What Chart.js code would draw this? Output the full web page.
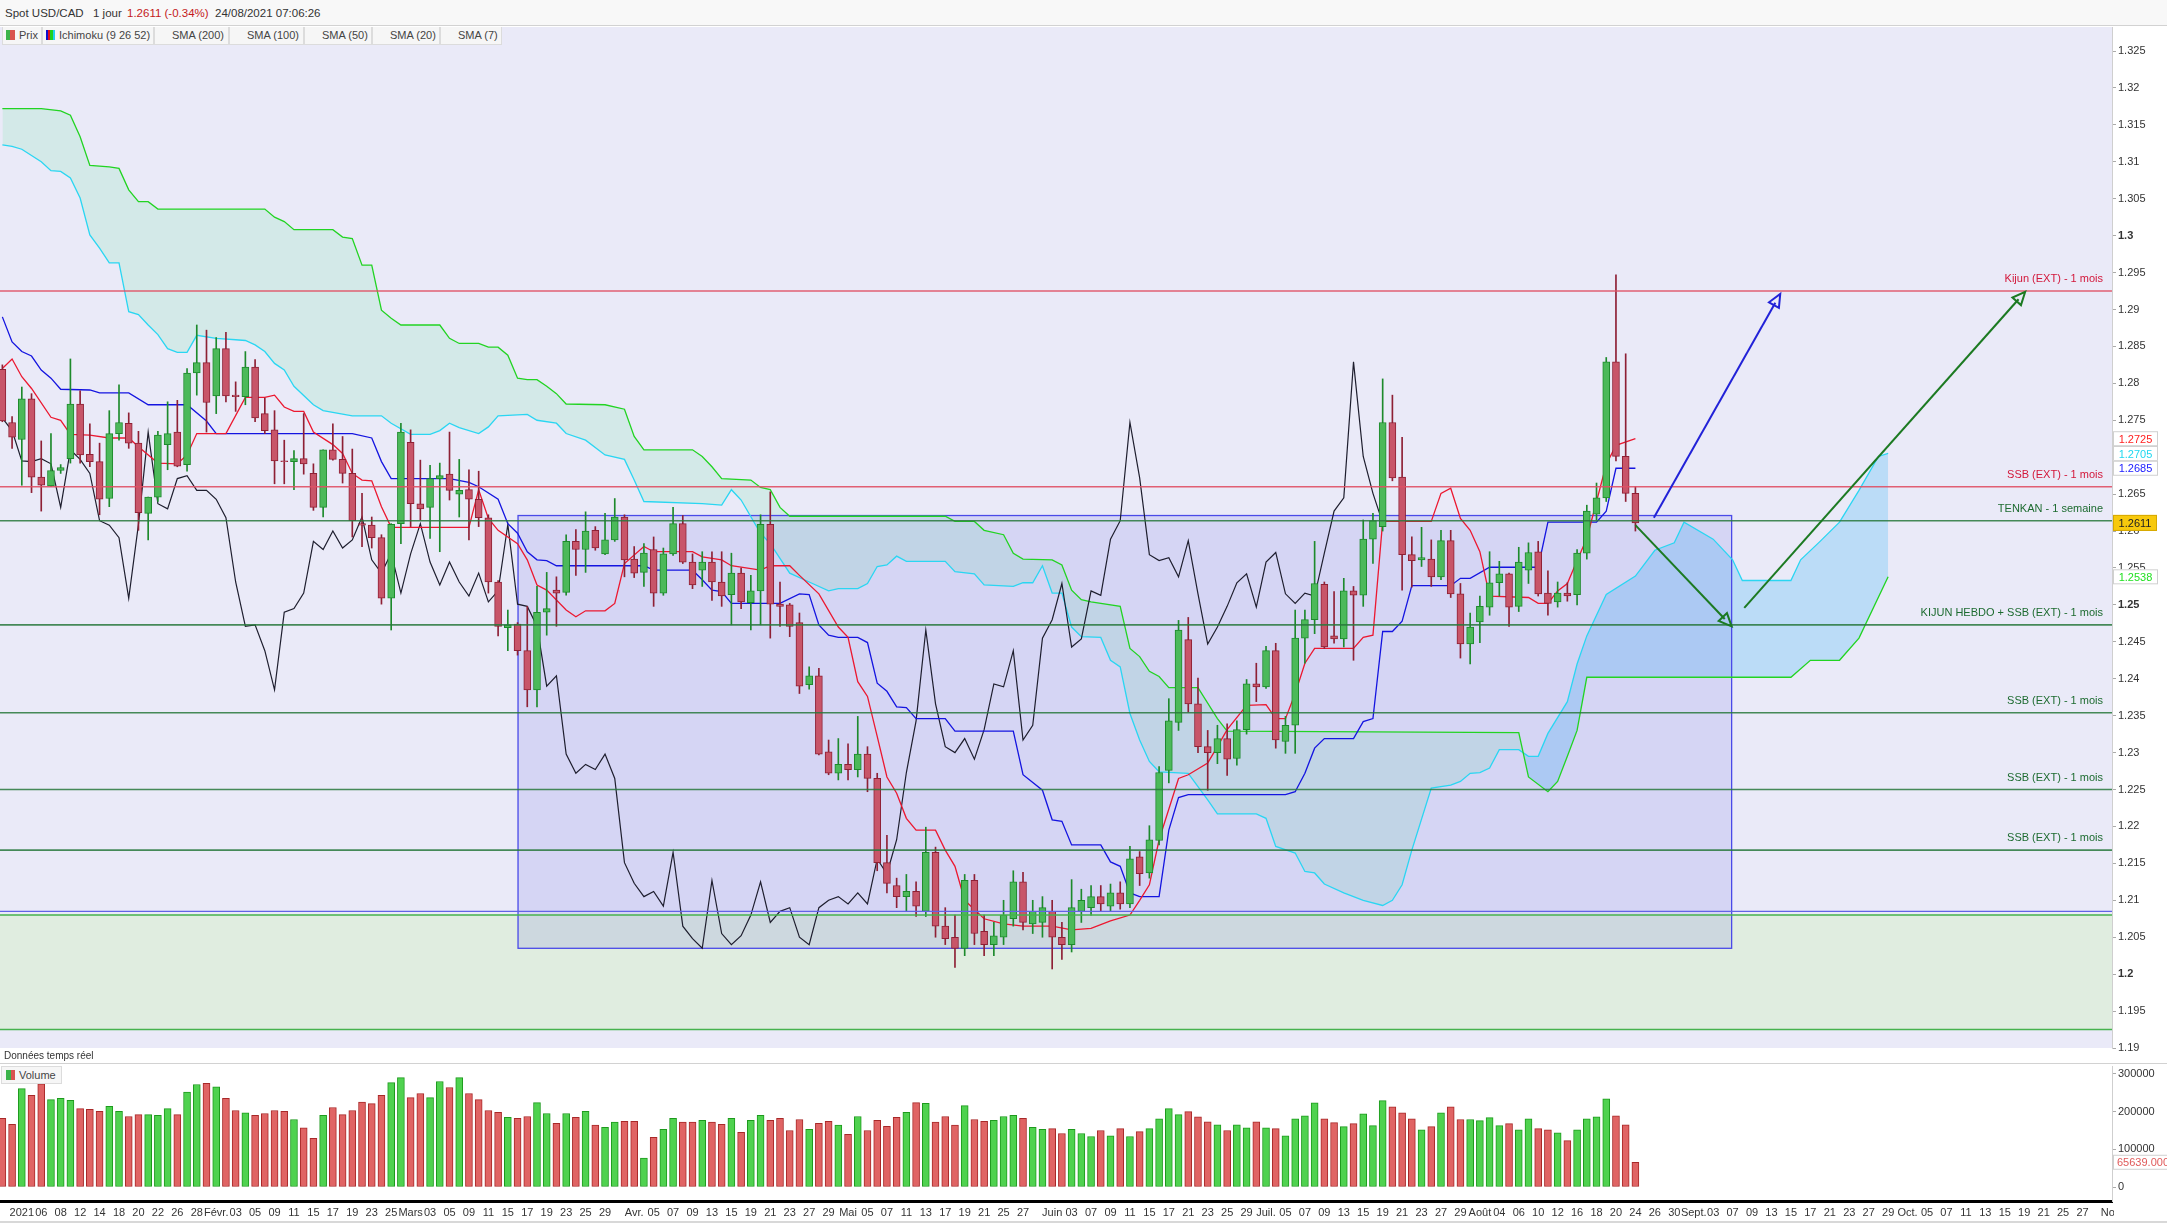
<!DOCTYPE html>
<html>
<head>
<meta charset="utf-8">
<script src="https://cdn.jsdelivr.net/npm/chart.js"></script>
<style>
  html, body { margin: 0; padding: 0; background: #fff; width: 2167px; height: 1223px; overflow: hidden;
    font-family: "Liberation Sans", Arial, sans-serif; }
  #head { position: absolute; left: 0; top: 0; width: 2167px; height: 26px; background: #f8f8f8;
    border-bottom: 1px solid #d2d2d2; box-sizing: border-box; font-size: 11.5px; color: #333; }
  #head span { position: absolute; top: 7px; }
  #head .red { color: #c41a1a; }
  #legend { position: absolute; left: 2px; top: 27px; height: 18px; z-index: 5; display: flex; }
  #legend div { height: 17px; line-height: 17px; font-size: 11px; color: #444; background: #f6f6f6;
    border: 1px solid #dcdcdc; border-top: none; padding: 0 3px 0 3px; box-sizing: content-box; white-space: nowrap; }
  #legend div.sma { padding: 0 4px 0 17px; }
  .sw { display: inline-block; width: 9px; height: 10px; vertical-align: -1px; margin-right: 4px; }
  canvas { position: absolute; left: 0; }
  #price { top: 27px; }
  #vol { top: 1064px; }
  #sep { position: absolute; left: 0; top: 1063px; width: 2167px; height: 1px; background: #d2d2d2; }
  #rt { position: absolute; left: 4px; top: 1050px; font-size: 10px; color: #333; }
  #vleg { position: absolute; left: 1px; top: 1066px; height: 16px; line-height: 16px; font-size: 11px; color: #444;
    background: #f6f6f6; border: 1px solid #dcdcdc; padding: 0 5px 0 4px; z-index: 5; }
  #foot { position: absolute; left: 0; top: 1221px; width: 2167px; height: 2px; background: #d8d8d8; }
</style>
</head>
<body>
<div id="head">
  <span style="left:5px">Spot USD/CAD</span>
  <span style="left:93px">1 jour</span>
  <span class="red" style="left:127px">1.2611 (-0.34%)</span>
  <span style="left:215px">24/08/2021 07:06:26</span>
</div>
<div id="legend">
  <div style="width:32px"><span class="sw" style="background:linear-gradient(90deg,#3cb44b 50%,#d9534f 50%)"></span>Prix</div>
  <div style="width:104px"><span class="sw" style="background:linear-gradient(90deg,#1010d0 25%,#e01020 25%,#e01020 50%,#20d020 50%,#20d020 75%,#20d0f0 75%)"></span>Ichimoku (9 26 52)</div>
  <div class="sma" style="width:52px">SMA (200)</div>
  <div class="sma" style="width:52px">SMA (100)</div>
  <div class="sma" style="width:45px">SMA (50)</div>
  <div class="sma" style="width:45px">SMA (20)</div>
  <div class="sma" style="width:39px">SMA (7)</div>
</div>
<canvas id="price" width="2167" height="1030"></canvas>
<div id="rt">Données temps réel</div>
<div id="sep"></div>
<canvas id="vol" width="2167" height="159"></canvas>
<div id="vleg"><span class="sw" style="background:linear-gradient(90deg,#3cb44b 50%,#d9534f 50%)"></span>Volume</div>
<div id="foot"></div>

<script>
// first candle is 30/12/2020, index 0 is 04/01/2021 (one index per trading day)
const FIRST_INDEX = -2;
const X_MIN = -2.243;
const X_MAX = 215.03;

// daily candles
const opens = [
  1.2819, 1.2747, 1.2724, 1.2779, 1.2673, 1.2661, 1.2682, 1.2698, 1.2772, 1.2704, 1.2694, 1.2644,
  1.2732, 1.2746, 1.2719, 1.2624, 1.2646, 1.2717, 1.2734, 1.2690, 1.2814, 1.2828,
  1.2783, 1.2847, 1.2784, 1.2782, 1.2822, 1.2759, 1.2737, 1.2695, 1.2694, 1.2698,
  1.2678, 1.2632, 1.2710, 1.2697, 1.2678, 1.2610, 1.2608, 1.2591, 1.2509, 1.2610,
  1.2720, 1.2637, 1.2632, 1.2671, 1.2677, 1.2650, 1.2656, 1.2643, 1.2618, 1.2531,
  1.2469, 1.2474, 1.2438, 1.2385, 1.2490, 1.2520, 1.2517, 1.2586, 1.2575, 1.2601,
  1.2569, 1.2588, 1.2619, 1.2562, 1.2544, 1.2575, 1.2516, 1.2569, 1.2610, 1.2558,
  1.2547, 1.2558, 1.2531, 1.2514, 1.2543, 1.2503, 1.2519, 1.2609, 1.2501, 1.2500,
  1.2476, 1.2392, 1.2404, 1.2301, 1.2272, 1.2284, 1.2277, 1.2298, 1.2265, 1.2151,
  1.2120, 1.2105, 1.2112, 1.2085, 1.2165, 1.2065, 1.2050, 1.2035, 1.2127, 1.2058,
  1.2040, 1.2050, 1.2075, 1.2125, 1.2068, 1.2070, 1.2085, 1.2050, 1.2040, 1.2085,
  1.2090, 1.2105, 1.2092, 1.2110, 1.2095, 1.2159, 1.2137, 1.2181, 1.2276, 1.2341,
  1.2453, 1.2366, 1.2308, 1.2300, 1.2319, 1.2292, 1.2331, 1.2393, 1.2389, 1.2438,
  1.2315, 1.2337, 1.2455, 1.2480, 1.2528, 1.2458, 1.2454, 1.2519, 1.2513, 1.2589,
  1.2606, 1.2747, 1.2673, 1.2568, 1.2561, 1.2562, 1.2538, 1.2587, 1.2515, 1.2447,
  1.2477, 1.2497, 1.2530, 1.2542, 1.2498, 1.2547, 1.2572, 1.2516, 1.2504, 1.2516,
  1.2514, 1.2570, 1.2623, 1.2645, 1.2829, 1.2701, 1.2651
];
const highs = [
  1.2825, 1.2755, 1.2795, 1.2786, 1.2722, 1.2732, 1.2690, 1.2833, 1.2790, 1.2745, 1.2719, 1.2763,
  1.2798, 1.2760, 1.2735, 1.2646, 1.2735, 1.2775, 1.2777, 1.2820, 1.2879, 1.2872,
  1.2862, 1.2869, 1.2802, 1.2843, 1.2832, 1.2780, 1.2763, 1.2723, 1.2709, 1.2759,
  1.2691, 1.2710, 1.2745, 1.2728, 1.2711, 1.2651, 1.2619, 1.2595, 1.2610, 1.2746,
  1.2737, 1.2696, 1.2689, 1.2692, 1.2734, 1.2697, 1.2683, 1.2681, 1.2622, 1.2533,
  1.2493, 1.2476, 1.2498, 1.2525, 1.2544, 1.2538, 1.2595, 1.2602, 1.2626, 1.2606,
  1.2624, 1.2644, 1.2622, 1.2579, 1.2583, 1.2592, 1.2577, 1.2632, 1.2621, 1.2569,
  1.2572, 1.2572, 1.2572, 1.2570, 1.2550, 1.2540, 1.2622, 1.2653, 1.2531, 1.2502,
  1.2489, 1.2416, 1.2414, 1.2317, 1.2319, 1.2312, 1.2349, 1.2308, 1.2272, 1.2188,
  1.2130, 1.2135, 1.2125, 1.2199, 1.2172, 1.2090, 1.2080, 1.2135, 1.2135, 1.2080,
  1.2070, 1.2100, 1.2140, 1.2138, 1.2100, 1.2105, 1.2100, 1.2070, 1.2128, 1.2115,
  1.2120, 1.2120, 1.2122, 1.2125, 1.2173, 1.2166, 1.2201, 1.2281, 1.2373, 1.2479,
  1.2483, 1.2401, 1.2330, 1.2337, 1.2339, 1.2343, 1.2399, 1.2421, 1.2444, 1.2448,
  1.2349, 1.2493, 1.2493, 1.2586, 1.2531, 1.2518, 1.2536, 1.2525, 1.2615, 1.2624,
  1.2806, 1.2784, 1.2727, 1.2592, 1.2605, 1.2588, 1.2601, 1.2601, 1.2529, 1.2489,
  1.2512, 1.2572, 1.2559, 1.2543, 1.2578, 1.2584, 1.2586, 1.2546, 1.2531, 1.2530,
  1.2575, 1.2635, 1.2665, 1.2835, 1.2947, 1.2840, 1.2660
];
const lows = [
  1.2748, 1.2712, 1.2662, 1.2652, 1.2627, 1.2660, 1.2678, 1.2692, 1.2692, 1.2687, 1.2622, 1.2633,
  1.2723, 1.2712, 1.2601, 1.2588, 1.2640, 1.2683, 1.2687, 1.2681, 1.2784, 1.2734,
  1.2759, 1.2775, 1.2762, 1.2771, 1.2748, 1.2732, 1.2664, 1.2664, 1.2656, 1.2677,
  1.2628, 1.2619, 1.2696, 1.2665, 1.2592, 1.2579, 1.2577, 1.2501, 1.2466, 1.2583,
  1.2606, 1.2615, 1.2590, 1.2572, 1.2642, 1.2619, 1.2588, 1.2606, 1.2516, 1.2458,
  1.2438, 1.2432, 1.2362, 1.2362, 1.2459, 1.2471, 1.2513, 1.2540, 1.2544, 1.2574,
  1.2568, 1.2586, 1.2538, 1.2537, 1.2525, 1.2498, 1.2513, 1.2567, 1.2556, 1.2522,
  1.2525, 1.2506, 1.2498, 1.2473, 1.2495, 1.2466, 1.2473, 1.2455, 1.2471, 1.2457,
  1.2380, 1.2386, 1.2297, 1.2270, 1.2263, 1.2263, 1.2267, 1.2247, 1.2140, 1.2110,
  1.2090, 1.2085, 1.2078, 1.2078, 1.2050, 1.2040, 1.2009, 1.2025, 1.2040, 1.2025,
  1.2025, 1.2040, 1.2065, 1.2060, 1.2055, 1.2050, 1.2007, 1.2020, 1.2030, 1.2070,
  1.2080, 1.2085, 1.2085, 1.2088, 1.2090, 1.2120, 1.2130, 1.2175, 1.2259, 1.2330,
  1.2355, 1.2300, 1.2249, 1.2285, 1.2269, 1.2283, 1.2325, 1.2369, 1.2387, 1.2306,
  1.2299, 1.2299, 1.2421, 1.2461, 1.2441, 1.2448, 1.2443, 1.2425, 1.2498, 1.2556,
  1.2600, 1.2668, 1.2520, 1.2524, 1.2552, 1.2525, 1.2534, 1.2510, 1.2428, 1.2420,
  1.2449, 1.2486, 1.2512, 1.2471, 1.2491, 1.2529, 1.2512, 1.2486, 1.2497, 1.2505,
  1.2500, 1.2562, 1.2615, 1.2640, 1.2695, 1.2640, 1.2600
];
const closes = [
  1.2749, 1.2727, 1.2779, 1.2673, 1.2662, 1.2682, 1.2686, 1.2772, 1.2703, 1.2694, 1.2643, 1.2732,
  1.2747, 1.2719, 1.2625, 1.2646, 1.2730, 1.2732, 1.2688, 1.2814, 1.2828, 1.2774,
  1.2847, 1.2783, 1.2782, 1.2822, 1.2753, 1.2736, 1.2695, 1.2694, 1.2698, 1.2691,
  1.2632, 1.2710, 1.2697, 1.2678, 1.2614, 1.2608, 1.2591, 1.2509, 1.2609, 1.2734,
  1.2637, 1.2630, 1.2671, 1.2675, 1.2655, 1.2655, 1.2643, 1.2618, 1.2531, 1.2471,
  1.2473, 1.2438, 1.2385, 1.2490, 1.2495, 1.2516, 1.2586, 1.2575, 1.2600, 1.2577,
  1.2588, 1.2619, 1.2561, 1.2543, 1.2570, 1.2516, 1.2569, 1.2610, 1.2558, 1.2527,
  1.2558, 1.2531, 1.2512, 1.2543, 1.2504, 1.2519, 1.2609, 1.2501, 1.2498, 1.2471,
  1.2390, 1.2404, 1.2298, 1.2272, 1.2284, 1.2277, 1.2298, 1.2265, 1.2151, 1.2123,
  1.2105, 1.2112, 1.2092, 1.2165, 1.2065, 1.2048, 1.2035, 1.2127, 1.2055, 1.2040,
  1.2052, 1.2080, 1.2125, 1.2070, 1.2085, 1.2090, 1.2050, 1.2040, 1.2090, 1.2100,
  1.2105, 1.2095, 1.2110, 1.2095, 1.2156, 1.2136, 1.2182, 1.2273, 1.2343, 1.2466,
  1.2366, 1.2308, 1.2300, 1.2319, 1.2291, 1.2331, 1.2393, 1.2389, 1.2438, 1.2317,
  1.2337, 1.2455, 1.2480, 1.2529, 1.2443, 1.2454, 1.2519, 1.2513, 1.2589, 1.2614,
  1.2747, 1.2672, 1.2568, 1.2560, 1.2564, 1.2538, 1.2587, 1.2515, 1.2447, 1.2470,
  1.2498, 1.2530, 1.2542, 1.2497, 1.2558, 1.2571, 1.2515, 1.2502, 1.2516, 1.2512,
  1.2570, 1.2627, 1.2645, 1.2829, 1.2701, 1.2651, 1.2611
];
// volume in thousands
const volumes = [
  182, 166, 261, 243, 274, 232, 235, 230, 208, 206, 201, 214,
  201, 187, 192, 192, 190, 208, 192, 252, 272, 275,
  266, 235, 203, 197, 190, 195, 203, 201, 179, 157,
  129, 190, 211, 192, 203, 225, 221, 243, 277, 290,
  237, 248, 237, 280, 264, 290, 248, 232, 203, 198,
  185, 182, 187, 224, 195, 169, 195, 185, 201, 164,
  158, 172, 174, 174, 77, 132, 153, 182, 172, 172,
  177, 172, 166, 182, 145, 177, 190, 177, 182, 150,
  179, 153, 169, 174, 164, 140, 187, 150, 177, 161,
  185, 198, 224, 222, 172, 187, 164, 216, 179, 174,
  177, 187, 190, 182, 158, 153, 155, 142, 153, 142,
  134, 150, 136, 155, 134, 147, 155, 181, 208, 192,
  200, 186, 173, 165, 150, 165, 157, 173, 157, 155,
  136, 181, 189, 223, 181, 171, 160, 168, 194, 163,
  229, 213, 197, 181, 152, 160, 197, 213, 179, 179,
  176, 184, 163, 168, 152, 181, 155, 152, 144, 123,
  152, 181, 186, 234, 189, 165, 65.639
];

// Ichimoku lines as [index, price] vertices
const tenkan = [
  [-2,1.2820],[-1,1.2833],[0,1.2809],[1,1.2793],[3,1.2754],[4,1.2750],[5,1.2731],[7,1.2730],[9,1.2726],[11,1.2726],
  [12,1.2714],[14,1.2692],[16,1.2691],[17,1.2703],[18,1.2732],[21,1.2732],[23,1.2781],[25,1.2781],[26,1.2784],[27,1.2768],
  [28,1.2762],[29,1.2762],[30,1.2734],[32,1.2717],[33,1.2705],[34,1.2678],[35,1.2669],[36,1.2668],[37,1.2633],[38,1.2605],
  [46,1.2605],[47,1.2656],[48,1.2617],[49,1.2601],[51,1.2583],[52,1.2561],[53,1.2527],[54,1.2520],[56,1.2493],[57,1.2484],
  [58,1.2492],[60,1.2492],[61,1.2502],[62,1.2556],[64,1.2579],[65,1.2572],[69,1.2572],[70,1.2565],[72,1.2561],[73,1.2553],
  [76,1.2547],[77,1.2553],[79,1.2553],[80,1.2540],[82,1.2515],[84,1.2470],[85,1.2456],[86,1.2396],[87,1.2376],[88,1.2322],
  [89,1.2267],[90,1.2245],[91,1.2211],[92,1.2195],[94,1.2195],[95,1.2168],[96,1.2146],[97,1.2100],[99,1.2075],[101,1.2068],
  [103,1.2065],[106,1.2065],[108,1.2060],[110,1.2062],[112,1.2072],[114,1.2080],[115,1.2100],[116,1.2121],[117,1.2182],[119,1.2265],
  [120,1.2270],[122,1.2286],[123,1.2308],[124,1.2331],[126,1.2364],[128,1.2365],[129,1.2346],[130,1.2346],[131,1.2380],[132,1.2421],
  [133,1.2441],[137,1.2441],[138,1.2456],[139,1.2459],[140,1.2613],[145,1.2613],[146,1.2651],[147,1.2658],[148,1.2617],[149,1.2601],
  [150,1.2572],[151,1.2512],[155,1.2510],[156,1.2502],[157,1.2502],[158,1.2519],[159,1.2529],[160,1.2560],[161,1.2590],[162,1.2640],
  [163,1.2690],[164,1.2716],[166,1.2725]
];
const kijun = [
  [-2,1.2890],[-1,1.2856],[0,1.2843],[1,1.2837],[2,1.2818],[3,1.2807],[4,1.2792],[7,1.2791],[8,1.2787],[11,1.2787],
  [13,1.2771],[17,1.2771],[19,1.2749],[20,1.2732],[34,1.2732],[36,1.2726],[37,1.2694],[38,1.2671],[44,1.2671],[46,1.2666],
  [47,1.2660],[49,1.2643],[50,1.2610],[51,1.2597],[52,1.2572],[53,1.2561],[54,1.2560],[55,1.2553],[64,1.2553],[65,1.2547],
  [69,1.2547],[70,1.2534],[71,1.2520],[72,1.2518],[73,1.2502],[78,1.2502],[80,1.2515],[81,1.2514],[82,1.2473],[83,1.2459],
  [84,1.2456],[86,1.2456],[87,1.2449],[88,1.2394],[89,1.2383],[90,1.2362],[91,1.2361],[92,1.2346],[95,1.2346],[96,1.2329],
  [102,1.2329],[103,1.2270],[105,1.2249],[106,1.2209],[107,1.2207],[108,1.2175],[111,1.2175],[112,1.2152],[113,1.2146],[114,1.2110],
  [115,1.2105],[117,1.2105],[118,1.2195],[119,1.2239],[120,1.2243],[130,1.2243],[131,1.2247],[132,1.2272],[133,1.2306],[134,1.2319],
  [137,1.2319],[138,1.2342],[139,1.2346],[140,1.2464],[141,1.2464],[142,1.2478],[143,1.2526],[147,1.2526],[148,1.2536],[149,1.2536],
  [151,1.2551],[156,1.2551],[157,1.2612],[162,1.2612],[163,1.2627],[164,1.2685],[166,1.2685]
];
const spanA = [
  [-2,1.3123],[-1,1.3121],[0,1.3117],[2,1.3100],[3,1.3088],[4,1.3087],[5,1.3078],[6,1.3051],[7,1.3001],[8,1.2983],
  [9,1.2963],[10,1.2963],[11,1.2897],[12,1.2893],[13,1.2879],[14,1.2866],[15,1.2847],[16,1.2842],[17,1.2842],[18,1.2865],
  [20,1.2861],[22,1.2859],[23,1.2858],[24,1.2852],[25,1.2843],[26,1.2827],[27,1.2818],[28,1.2796],[30,1.2771],[31,1.2763],
  [34,1.2756],[37,1.2756],[38,1.2746],[40,1.2731],[42,1.2731],[43,1.2736],[44,1.2746],[45,1.2740],[47,1.2732],[48,1.2741],
  [49,1.2756],[52,1.2758],[53,1.2750],[55,1.2746],[56,1.2732],[58,1.2723],[60,1.2703],[62,1.2697],[63,1.2669],[64,1.2640],
  [70,1.2637],[72,1.2635],[73,1.2656],[74,1.2642],[76,1.2597],[77,1.2583],[79,1.2543],[81,1.2531],[83,1.2519],[84,1.2522],
  [86,1.2522],[87,1.2529],[88,1.2552],[89,1.2554],[90,1.2566],[91,1.2559],[95,1.2559],[96,1.2545],[98,1.2542],[99,1.2527],
  [102,1.2525],[103,1.2530],[104,1.2530],[105,1.2553],[106,1.2516],[107,1.2516],[108,1.2470],[109,1.2457],[111,1.2456],[112,1.2425],
  [113,1.2416],[114,1.2353],[115,1.2317],[116,1.2288],[117,1.2274],[120,1.2272],[121,1.2254],[122,1.2236],[123,1.2217],[127,1.2217],
  [128,1.2211],[129,1.2173],[131,1.2164],[132,1.2139],[133,1.2137],[134,1.2122],[136,1.2110],[138,1.2100],[140,1.2093],[141,1.2100],
  [142,1.2121],[143,1.2168],[145,1.2252],[147,1.2256],[148,1.2261],[149,1.2272],[150,1.2273],[151,1.2279],[152,1.2304],[154,1.2304],
  [155,1.2295],[156,1.2295],[157,1.2326],[159,1.2369],[160,1.2420],[161,1.2458],[163,1.2514],[166,1.2539],[168,1.2574],[170,1.2584],
  [171,1.2612],[174,1.2589],[176,1.2561],[177,1.2533],[182,1.2533],[183,1.2561],[185,1.2586],[187,1.2612],[189,1.2655],[191,1.2701],
  [192,1.2705]
];
const spanB = [
  [-2,1.3172],[2,1.3172],[4,1.3169],[5,1.3163],[6,1.3134],[7,1.3095],[9,1.3093],[10,1.3091],[11,1.3062],[12,1.3046],
  [13,1.3046],[14,1.3036],[25,1.3036],[26,1.3025],[27,1.3019],[28,1.3008],[32,1.3008],[33,1.2998],[34,1.2996],[35,1.2960],
  [36,1.2960],[37,1.2899],[38,1.2888],[39,1.2879],[43,1.2879],[44,1.2861],[45,1.2854],[47,1.2854],[48,1.2849],[49,1.2849],
  [50,1.2838],[51,1.2807],[52,1.2805],[53,1.2805],[54,1.2796],[55,1.2786],[56,1.2772],[60,1.2771],[62,1.2765],[63,1.2728],
  [64,1.2710],[69,1.2710],[70,1.2701],[71,1.2687],[72,1.2671],[75,1.2669],[76,1.2659],[77,1.2656],[78,1.2632],[79,1.2620],
  [95,1.2620],[96,1.2613],[98,1.2613],[99,1.2601],[101,1.2595],[102,1.2570],[103,1.2562],[106,1.2561],[107,1.2554],[108,1.2520],
  [109,1.2507],[110,1.2504],[113,1.2498],[114,1.2441],[115,1.2430],[116,1.2410],[117,1.2403],[118,1.2388],[121,1.2388],[123,1.2346],
  [124,1.2329],[154,1.2327],[155,1.2267],[157,1.2247],[158,1.2261],[159,1.2295],[160,1.2330],[161,1.2402],[182,1.2402],[184,1.2425],
  [187,1.2425],[189,1.2455],[192,1.2538]
];

// drawn levels and objects (index / price space)
const levelValues = [1.2925, 1.2660, 1.2614, 1.2473, 1.2354, 1.2250, 1.2168];
const levelLabels = ['Kijun (EXT) - 1 mois', 'SSB (EXT) - 1 mois', 'TENKAN - 1 semaine',
  'KIJUN HEBDO + SSB (EXT) - 1 mois', 'SSB (EXT) - 1 mois', 'SSB (EXT) - 1 mois', 'SSB (EXT) - 1 mois'];
const levelIsRed = [true, true, false, false, false, false, false];
const supportZone = [1.1925, 1.2080];
const blueLevel = 1.2085;
const boxIndex = [51.05, 175.9];
const boxPrice = [1.2035, 1.2621];
const arrowsFrom = [[167.9, 1.2618], [166.0, 1.2608], [177.2, 1.2496]];
const arrowsTo = [[180.9, 1.2921], [175.9, 1.2471], [206.1, 1.2924]];
const arrowColors = ['#2222d8', '#1c7a22', '#1c7a22'];

// right axis
const priceTicks = [];
for (let t = 1325; t >= 1190; t -= 5) priceTicks.push(t / 1000);
const volumeTicks = [0, 100000, 200000, 300000];
const axisBoxValues = [1.2725, 1.2705, 1.2685, 1.2611, 1.2538];
const axisBoxText = ['#ff2020', '#20d8f0', '#2020ff', '#222', '#22e022'];
const axisBoxFill = ['#fff', '#fff', '#fff', '#f7c90d', '#fff'];
const lastVolume = 65639;

// date axis
const MONTHS = ['Janv.', 'Févr.', 'Mars', 'Avr.', 'Mai', 'Juin', 'Juil.', 'Août', 'Sept.', 'Oct.', 'Nov.', 'Déc.'];
const HOLIDAYS = ['2021-01-01'];

Chart.defaults.font.family = "'Liberation Sans', Arial, sans-serif";
Chart.defaults.font.size = 11;
Chart.defaults.color = '#333';

// trading days starting at 30/12/2020
const days = [];
const d = new Date(Date.UTC(2020, 11, 30));
while (days.length < 230) {
  const iso = d.toISOString().slice(0, 10);
  if (d.getUTCDay() !== 0 && d.getUTCDay() !== 6 && !HOLIDAYS.includes(iso)) days.push(new Date(d));
  d.setUTCDate(d.getUTCDate() + 1);
}
const dayAt = i => days[i - FIRST_INDEX];
const isMonthStart = i => dayAt(i).getUTCMonth() !== dayAt(i - 1).getUTCMonth();

// one label every two sessions, restarting on each new month
const dateTicks = [];
let monthStart = 0;
for (let i = 0; i <= X_MAX; i++) {
  const day = dayAt(i);
  if (isMonthStart(i)) {
    monthStart = i;
    dateTicks.push({ value: i, label: day.getUTCMonth() === 0 ? String(day.getUTCFullYear()) : MONTHS[day.getUTCMonth()] });
  } else if ((i - monthStart) % 2 === 0 && !isMonthStart(i + 1)) {
    dateTicks.push({ value: i, label: String(day.getUTCDate()).padStart(2, '0') });
  }
}

const idx = opens.map((_, k) => FIRST_INDEX + k);
const up = opens.map((o, k) => closes[k] >= o);
const pts = arr => arr.map(p => ({ x: p[0], y: p[1] }));
// lagging span: closes plotted 26 sessions back
const chikou = closes.map((c, k) => ({ x: idx[k] - 26, y: c })).filter(p => p.x >= FIRST_INDEX);

const fmtPrice = v => String(Number(v.toFixed(4)));

function noPad(s) {
  s.paddingTop = 0; s.paddingBottom = 0; s.paddingLeft = 0; s.paddingRight = 0;
}

function drawArrow(ctx, x1, y1, x2, y2, color) {
  const ang = Math.atan2(y2 - y1, x2 - x1);
  const L = 14, W = 0.42;
  ctx.strokeStyle = color;
  ctx.lineWidth = 2;
  ctx.beginPath();
  ctx.moveTo(x1, y1);
  ctx.lineTo(x2 - 10 * Math.cos(ang), y2 - 10 * Math.sin(ang));
  ctx.stroke();
  ctx.beginPath();
  ctx.moveTo(x2, y2);
  ctx.lineTo(x2 - L * Math.cos(ang - W), y2 - L * Math.sin(ang - W));
  ctx.lineTo(x2 - L * Math.cos(ang + W), y2 - L * Math.sin(ang + W));
  ctx.closePath();
  ctx.stroke();
}

function axisBox(ctx, x, y, w, h, text, color, fill, border) {
  ctx.fillStyle = fill;
  ctx.fillRect(x, y - h / 2, w, h);
  ctx.strokeStyle = border;
  ctx.lineWidth = 1;
  ctx.strokeRect(x + 0.5, y - h / 2 + 0.5, w - 1, h - 1);
  ctx.fillStyle = color;
  ctx.textAlign = 'center';
  ctx.textBaseline = 'middle';
  ctx.font = "11px 'Liberation Sans', Arial";
  ctx.fillText(text, x + w / 2, y + 1);
}

const priceOverlay = {
  id: 'priceOverlay',
  beforeDraw(chart) {
    const { ctx, chartArea: a } = chart;
    ctx.save();
    ctx.fillStyle = '#eaeaf8';
    ctx.fillRect(a.left, a.top, a.right - a.left, a.bottom - a.top);
    ctx.restore();
  },
  beforeDatasetsDraw(chart) {
    const { ctx, chartArea: a, scales: { x, y } } = chart;
    ctx.save();
    ctx.beginPath();
    ctx.rect(a.left, a.top, a.right - a.left, a.bottom - a.top);
    ctx.clip();
    // support zone at the bottom
    const zt = y.getPixelForValue(supportZone[1]), zb = y.getPixelForValue(supportZone[0]);
    ctx.fillStyle = 'rgba(214,240,200,0.5)';
    ctx.fillRect(a.left, zt, a.right - a.left, zb - zt);
    // range rectangle
    const rx1 = x.getPixelForValue(boxIndex[0]), rx2 = x.getPixelForValue(boxIndex[1]);
    const ry1 = y.getPixelForValue(boxPrice[1]), ry2 = y.getPixelForValue(boxPrice[0]);
    ctx.fillStyle = 'rgba(80,80,220,0.13)';
    ctx.fillRect(rx1, ry1, rx2 - rx1, ry2 - ry1);
    ctx.strokeStyle = '#4a4ae8';
    ctx.lineWidth = 1.3;
    ctx.strokeRect(rx1, ry1, rx2 - rx1, ry2 - ry1);
    ctx.restore();
  },
  afterDatasetsDraw(chart) {
    const { ctx, chartArea: a, scales: { x, y } } = chart;
    ctx.save();
    const hline = (v, color, w) => {
      const py = y.getPixelForValue(v);
      ctx.strokeStyle = color;
      ctx.lineWidth = w;
      ctx.beginPath();
      ctx.moveTo(a.left, py);
      ctx.lineTo(a.right, py);
      ctx.stroke();
      return py;
    };
    hline(supportZone[1], '#46b24e', 1.4);
    hline(supportZone[0], '#46b24e', 1.4);
    hline(blueLevel, '#6262e6', 1.2);
    ctx.font = "11px 'Liberation Sans', Arial";
    ctx.textAlign = 'right';
    ctx.textBaseline = 'middle';
    levelValues.forEach((v, k) => {
      const py = hline(v, levelIsRed[k] ? 'rgba(224,80,100,0.9)' : 'rgba(40,120,60,0.85)', 1.6);
      ctx.fillStyle = levelIsRed[k] ? '#d3173a' : '#1d6b30';
      ctx.fillText(levelLabels[k], a.right - 9, py - 12);
    });
    arrowsFrom.forEach((p, k) => {
      drawArrow(ctx, x.getPixelForValue(p[0]), y.getPixelForValue(p[1]),
        x.getPixelForValue(arrowsTo[k][0]), y.getPixelForValue(arrowsTo[k][1]), arrowColors[k]);
    });
    ctx.restore();
  },
  afterDraw(chart) {
    const { ctx, chartArea: a, scales: { y } } = chart;
    ctx.save();
    axisBoxValues.forEach((v, k) => {
      const current = k === 3;
      axisBox(ctx, a.right + 1, y.getPixelForValue(v), current ? 44 : 45, current ? 16 : 15,
        v.toFixed(4), axisBoxText[k], axisBoxFill[k], current ? '#d6a800' : '#d0d0d0');
    });
    ctx.restore();
  }
};

new Chart(document.getElementById('price'), {
  type: 'bar',
  data: {
    datasets: [
      { type: 'line', label: 'SSB', data: pts(spanB), borderColor: '#22d422', borderWidth: 1.3,
        pointRadius: 0, tension: 0, order: 6 },
      { type: 'line', label: 'SSA', data: pts(spanA), borderColor: '#2ad6f2', borderWidth: 1.3,
        pointRadius: 0, tension: 0, order: 6,
        fill: { target: 0, above: 'rgba(140,205,245,0.5)', below: 'rgba(160,232,195,0.3)' } },
      { type: 'line', label: 'Chikou', data: chikou, borderColor: '#1e1e2e', borderWidth: 1.2,
        pointRadius: 0, tension: 0, order: 5 },
      { type: 'line', label: 'Kijun', data: pts(kijun), borderColor: '#1414e0', borderWidth: 1.3,
        pointRadius: 0, tension: 0, order: 4 },
      { type: 'line', label: 'Tenkan', data: pts(tenkan), borderColor: '#ec1830', borderWidth: 1.3,
        pointRadius: 0, tension: 0, order: 3 },
      { label: 'Mèches', data: idx.map((x, k) => ({ x, y: [lows[k], highs[k]] })),
        backgroundColor: up.map(u => u ? '#1d8a2c' : '#8e2035'), borderWidth: 0,
        barThickness: 1, grouped: false, order: 2 },
      { label: 'Prix', data: idx.map((x, k) => ({ x, y: [opens[k], closes[k]] })),
        backgroundColor: up.map(u => u ? '#4cb95a' : '#c85569'),
        borderColor: up.map(u => u ? '#1d8a2c' : '#8e2035'),
        borderWidth: 1, borderSkipped: false, barThickness: 7, grouped: false, order: 1 }
    ]
  },
  options: {
    responsive: false,
    animation: false,
    devicePixelRatio: 1,
    events: [],
    layout: { padding: { left: 0, right: 0, top: 0, bottom: 9 } },
    plugins: {
      legend: { display: false },
      tooltip: { enabled: false },
      filler: { drawTime: 'beforeDatasetsDraw' }
    },
    scales: {
      x: { type: 'linear', min: X_MIN, max: X_MAX, display: false, offset: false },
      y: {
        type: 'linear', position: 'right', min: 1.19, max: 1.32825,
        afterFit(s) { s.width = 55; noPad(s); },
        afterBuildTicks(s) { s.ticks = priceTicks.map(v => ({ value: v })); },
        grid: { drawOnChartArea: false, drawTicks: true, tickLength: 4, color: '#aaa' },
        border: { color: '#cfcfcf' },
        ticks: {
          padding: 2, color: '#333',
          font: ctx => ({ size: 11, weight: ctx.tick && Math.abs(ctx.tick.value * 20 - Math.round(ctx.tick.value * 20)) < 1e-6 ? 'bold' : 'normal' }),
          callback: v => fmtPrice(v)
        }
      }
    }
  },
  plugins: [priceOverlay]
});

const volumeOverlay = {
  id: 'volumeOverlay',
  afterDraw(chart) {
    const { ctx, chartArea: a, scales: { y } } = chart;
    ctx.save();
    // the right axis column hides the end of the last date label
    ctx.fillStyle = '#fff';
    ctx.fillRect(a.right + 2, a.bottom + 3, 60, 30);
    axisBox(ctx, a.right + 1, y.getPixelForValue(lastVolume), 60, 15,
      lastVolume.toFixed(3), '#e05a5a', '#fff', '#d0d0d0');
    ctx.restore();
  }
};

const tickLabel = new Map(dateTicks.map(t => [t.value, t.label]));

new Chart(document.getElementById('vol'), {
  type: 'bar',
  data: {
    datasets: [{
      label: 'Volume',
      data: idx.map((x, k) => ({ x, y: volumes[k] * 1000 })),
      backgroundColor: up.map(u => u ? '#4fd24f' : '#e06464'),
      borderColor: up.map(u => u ? '#1d9a1d' : '#a82828'),
      borderWidth: 1, borderSkipped: false, barThickness: 7, grouped: false
    }]
  },
  options: {
    responsive: false,
    animation: false,
    devicePixelRatio: 1,
    events: [],
    layout: { padding: { left: 0, right: 0, top: 2, bottom: 0 } },
    plugins: { legend: { display: false }, tooltip: { enabled: false } },
    scales: {
      x: {
        type: 'linear', min: X_MIN, max: X_MAX, offset: false,
        afterFit(s) { s.height = 22; noPad(s); },
        afterBuildTicks(s) { s.ticks = dateTicks.map(t => ({ value: t.value })); },
        grid: { display: false, drawTicks: false },
        border: { display: true, color: '#000', width: 3 },
        ticks: { autoSkip: false, maxRotation: 0, minRotation: 0, padding: 5, color: '#333',
          callback: v => tickLabel.get(v) }
      },
      y: {
        type: 'linear', position: 'right', min: -37100, max: 321000,
        afterFit(s) { s.width = 55; noPad(s); },
        afterBuildTicks(s) { s.ticks = volumeTicks.map(v => ({ value: v })); },
        grid: { drawOnChartArea: false, drawTicks: true, tickLength: 4, color: '#aaa' },
        border: { color: '#cfcfcf' },
        ticks: { padding: 2, color: '#333', callback: v => String(v) }
      }
    }
  },
  plugins: [volumeOverlay]
});
</script>
</body>
</html>
